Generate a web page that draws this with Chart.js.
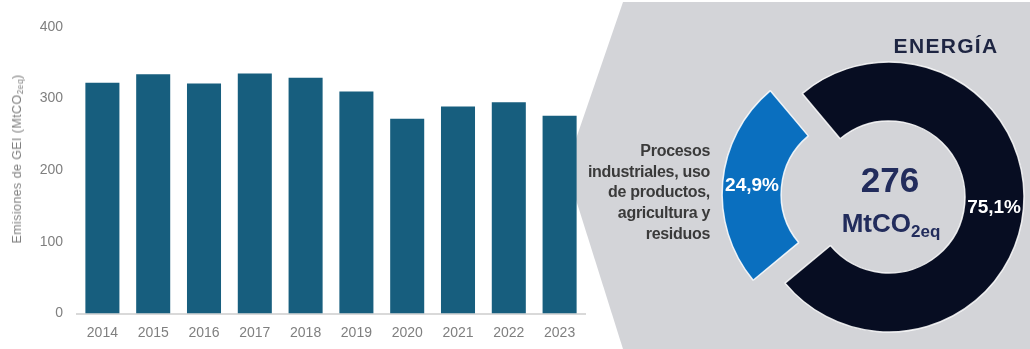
<!DOCTYPE html>
<html><head><meta charset="utf-8">
<script src="https://cdn.jsdelivr.net/npm/chart.js@4.4.1/dist/chart.umd.min.js"></script>
<style>
html,body{margin:0;padding:0;background:#fff;width:1030px;height:349px;overflow:hidden;font-family:"Liberation Sans",Arial,sans-serif;}
#panel{position:absolute;left:0;top:0;width:1030px;height:349px;background:#d3d4d8;clip-path:polygon(623px 2px,1030px 2px,1030px 349px,623px 349px,566px 168px);}
#bars{position:absolute;left:0;top:0;}
#ring{position:absolute;left:709px;top:47px;}
.t{position:absolute;font-weight:bold;white-space:nowrap;}
#ytitle{position:absolute;left:17px;top:159px;transform:translate(-50%,-50%) rotate(-90deg);font-size:12.5px;letter-spacing:0.4px;color:#808080;white-space:nowrap;line-height:14px;}
#ytitle sub{font-size:8.5px;vertical-align:-2px;line-height:0;}
#energia{left:846px;width:200px;text-align:center;top:35px;font-size:21px;line-height:21px;letter-spacing:1.3px;color:#1e2542;}
#total{left:790px;width:200px;text-align:center;top:162px;font-size:35px;line-height:35px;color:#222c5c;}
#unit{left:791px;width:200px;text-align:center;top:210px;font-size:26px;line-height:26px;color:#222c5c;}
#unit sub{font-size:17px;vertical-align:-5px;line-height:0;}
#catlabel{left:540px;width:170px;text-align:right;top:141px;font-size:16px;line-height:20.7px;color:#3a3a3a;letter-spacing:-0.3px;white-space:normal;}
</style></head><body>
<div id="panel"></div>
<canvas id="bars" width="620" height="349"></canvas>
<canvas id="ring" width="360" height="300"></canvas>
<div id="ytitle">Emisiones de GEI (MtCO<sub>2eq</sub>)</div>
<div class="t" id="energia"></div>
<div class="t" id="total"></div>
<div class="t" id="unit">MtCO<sub>2eq</sub></div>
<div class="t" id="catlabel">Procesos<br>industriales, uso<br>de productos,<br>agricultura y<br>residuos</div>
<script>
// ---- data ----
const years = ['2014','2015','2016','2017','2018','2019','2020','2021','2022','2023'];
const emissions = [322, 334, 321, 335, 329, 310, 272, 289, 295, 276];
const yTicks = [0, 100, 200, 300, 400];
const shareLabels = ['ENERGÍA', 'Procesos industriales, uso de productos, agricultura y residuos'];
const shareValues = [75.1, 24.9];
const totalEmissions = 276;

document.getElementById('energia').textContent = shareLabels[0];
document.getElementById('total').textContent = String(totalEmissions);

const fmt = v => v.toFixed(1).replace('.', ',') + '%';
const tickColor = '#7f7f7f';
const font = '"Liberation Sans", Arial, sans-serif';

new Chart(document.getElementById('bars'), {
  type: 'bar',
  data: {
    labels: years,
    datasets: [{
      data: emissions,
      backgroundColor: '#175e7e',
      borderWidth: 0,
      barPercentage: 0.67,
      categoryPercentage: 1.0
    }]
  },
  options: {
    responsive: false,
    animation: false,
    events: [],
    layout: { padding: { top: 27, right: 35, bottom: 0, left: 0 } },
    plugins: { legend: { display: false }, tooltip: { enabled: false } },
    scales: {
      x: {
        grid: { display: false, drawTicks: false },
        border: { display: true, color: '#d9d9d9', width: 2 },
        ticks: { color: tickColor, font: { family: font, size: 14 }, padding: 11, maxRotation: 0 },
        afterFit: s => { s.height = 35.5; }
      },
      y: {
        min: yTicks[0], max: yTicks[yTicks.length - 1],
        grid: { display: false, drawTicks: false },
        border: { display: false },
        afterBuildTicks: s => { s.ticks = yTicks.map(v => ({ value: v })); },
        ticks: { color: tickColor, font: { family: font, size: 14 }, padding: 14 },
        afterFit: s => { s.width = 77; }
      }
    }
  }
});

// Chart.js translates an arc by offset/4, so 128 gives a 32px explode
const ringOffsets = [0, 128];
const pctLabels = {
  id: 'pctLabels',
  afterDatasetsDraw(chart) {
    const ctx = chart.ctx;
    const meta = chart.getDatasetMeta(0);
    ctx.save();
    ctx.fillStyle = '#ffffff';
    ctx.font = 'bold 19px ' + font;
    ctx.textAlign = 'center';
    ctx.textBaseline = 'middle';
    meta.data.forEach((arc, i) => {
      const mid = (arc.startAngle + arc.endAngle) / 2;
      const r = (arc.innerRadius + arc.outerRadius) / 2 + ringOffsets[i] / 4;
      ctx.fillText(fmt(shareValues[i]), arc.x + Math.cos(mid) * r, arc.y + Math.sin(mid) * r + 1);
    });
    ctx.restore();
  }
};

new Chart(document.getElementById('ring'), {
  type: 'doughnut',
  data: {
    labels: shareLabels,
    datasets: [{
      data: shareValues,
      backgroundColor: ['#070d22', '#0a6fbf'],
      borderColor: 'rgba(255,255,255,0.85)',
      borderWidth: 1.5,
      offset: ringOffsets
    }]
  },
  options: {
    responsive: false,
    animation: false,
    events: [],
    rotation: -40,
    cutout: '56.3%',
    radius: 135,
    layout: { padding: 0 },
    plugins: { legend: { display: false }, tooltip: { enabled: false } }
  },
  plugins: [pctLabels]
});
</script>
</body></html>
